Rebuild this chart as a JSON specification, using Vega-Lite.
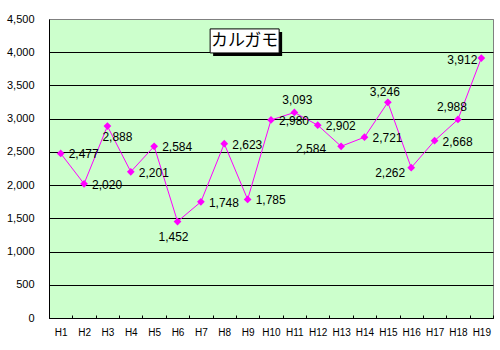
{
  "$schema": "https://vega.github.io/schema/vega-lite/v6.json",
  "width": 444,
  "height": 299,
  "autosize": {"type": "none"},
  "padding": {"left": 49, "top": 19, "right": 7, "bottom": 32},
  "background": "white",
  "config": {
    "view": {"fill": "#CCFFCC", "stroke": "#808080", "strokeWidth": 1},
    "text": {"font": "Liberation Sans", "fontSize": 12, "fill": "black"}
  },
  "datasets": {
    "main": [
      {"year": "H1", "count": 2477},
      {"year": "H2", "count": 2020},
      {"year": "H3", "count": 2888},
      {"year": "H4", "count": 2201},
      {"year": "H5", "count": 2584},
      {"year": "H6", "count": 1452},
      {"year": "H7", "count": 1748},
      {"year": "H8", "count": 2623},
      {"year": "H9", "count": 1785},
      {"year": "H10", "count": 2980},
      {"year": "H11", "count": 3093},
      {"year": "H12", "count": 2902},
      {"year": "H13", "count": 2584},
      {"year": "H14", "count": 2721},
      {"year": "H15", "count": 3246},
      {"year": "H16", "count": 2262},
      {"year": "H17", "count": 2668},
      {"year": "H18", "count": 2988},
      {"year": "H19", "count": 3912}
    ],
    "title": [{"year": "H9", "count": 4170, "label": "カルガモ"}]
  },
  "encoding": {
    "x": {
      "field": "year", "type": "nominal", "sort": null,
      "scale": {"domain": ["H1","H2","H3","H4","H5","H6","H7","H8","H9","H10","H11","H12","H13","H14","H15","H16","H17","H18","H19"], "paddingInner": 0, "paddingOuter": 0},
      "axis": {
        "title": null, "labelAngle": 0, "labelFont": "Liberation Sans", "labelFontSize": 10, "labelColor": "black",
        "domainColor": "black", "tickColor": "black", "tickBand": "extent", "tickSize": -3, "labelPadding": 12, "grid": false
      }
    },
    "y": {
      "field": "count", "type": "quantitative",
      "scale": {"domain": [0, 4500], "nice": false},
      "axis": {
        "title": null, "values": [0,500,1000,1500,2000,2500,3000,3500,4000,4500], "format": ",d",
        "labelFont": "Liberation Sans", "labelFontSize": 11, "labelColor": "black", "ticks": false, "labelPadding": 15,
        "domainColor": "black", "grid": true,
        "gridColor": {"condition": {"test": "datum.value >= 4500", "value": "#808080"}, "value": "black"},
        "gridOpacity": 1, "gridWidth": 1
      }
    }
  },
  "layer": [
    {"data": {"name": "main"}, "mark": {"type": "line", "color": "#FF00FF", "strokeWidth": 1}},
    {"data": {"name": "main"}, "mark": {"type": "point", "shape": "diamond", "filled": true, "color": "#FF00FF", "opacity": 1, "size": 60}},
    {"data": {"name": "main"},
     "transform": [{"filter": {"field": "year", "oneOf": ["H1","H2","H4","H5","H7","H8","H9","H10","H12","H14","H17"]}}],
     "mark": {"type": "text", "align": "left", "baseline": "middle", "dx": 8, "dy": 1},
     "encoding": {"text": {"field": "count", "type": "quantitative", "format": ",d"}}},
    {"data": {"name": "main"},
     "transform": [{"filter": {"field": "year", "equal": "H3"}}],
     "mark": {"type": "text", "align": "left", "baseline": "middle", "dx": -5, "dy": 11},
     "encoding": {"text": {"field": "count", "type": "quantitative", "format": ",d"}}},
    {"data": {"name": "main"},
     "transform": [{"filter": {"field": "year", "equal": "H6"}}],
     "mark": {"type": "text", "align": "center", "baseline": "middle", "dx": -4, "dy": 15},
     "encoding": {"text": {"field": "count", "type": "quantitative", "format": ",d"}}},
    {"data": {"name": "main"},
     "transform": [{"filter": {"field": "year", "equal": "H11"}}],
     "mark": {"type": "text", "align": "center", "baseline": "middle", "dx": 3, "dy": -12},
     "encoding": {"text": {"field": "count", "type": "quantitative", "format": ",d"}}},
    {"data": {"name": "main"},
     "transform": [{"filter": {"field": "year", "equal": "H15"}}],
     "mark": {"type": "text", "align": "center", "baseline": "middle", "dx": -3, "dy": -10},
     "encoding": {"text": {"field": "count", "type": "quantitative", "format": ",d"}}},
    {"data": {"name": "main"},
     "transform": [{"filter": {"field": "year", "equal": "H18"}}],
     "mark": {"type": "text", "align": "center", "baseline": "middle", "dx": -6, "dy": -12},
     "encoding": {"text": {"field": "count", "type": "quantitative", "format": ",d"}}},
    {"data": {"name": "main"},
     "transform": [{"filter": {"field": "year", "equal": "H13"}}],
     "mark": {"type": "text", "align": "right", "baseline": "middle", "dx": -15, "dy": 3},
     "encoding": {"text": {"field": "count", "type": "quantitative", "format": ",d"}}},
    {"data": {"name": "main"},
     "transform": [{"filter": {"field": "year", "equal": "H16"}}],
     "mark": {"type": "text", "align": "right", "baseline": "middle", "dx": -6, "dy": 5},
     "encoding": {"text": {"field": "count", "type": "quantitative", "format": ",d"}}},
    {"data": {"name": "main"},
     "transform": [{"filter": {"field": "year", "equal": "H19"}}],
     "mark": {"type": "text", "align": "right", "baseline": "middle", "dx": -4, "dy": 2},
     "encoding": {"text": {"field": "count", "type": "quantitative", "format": ",d"}}},
    {"data": {"name": "title"},
     "mark": {"type": "point", "shape": "M-1,-0.348H1V0.348H-1Z", "size": 4761, "filled": true, "color": "black", "opacity": 1, "xOffset": 0, "yOffset": 3}},
    {"data": {"name": "title"},
     "mark": {"type": "point", "shape": "M-1,-0.348H1V0.348H-1Z", "size": 4761, "filled": true, "fill": "white", "stroke": "black", "strokeWidth": 1, "opacity": 1, "xOffset": -3}},
    {"data": {"name": "title"},
     "mark": {"type": "text", "font": "Noto Sans CJK JP", "fontSize": 17, "align": "center", "baseline": "middle", "dx": -3, "dy": 0},
     "encoding": {"text": {"field": "label", "type": "nominal"}}}
  ]
}
